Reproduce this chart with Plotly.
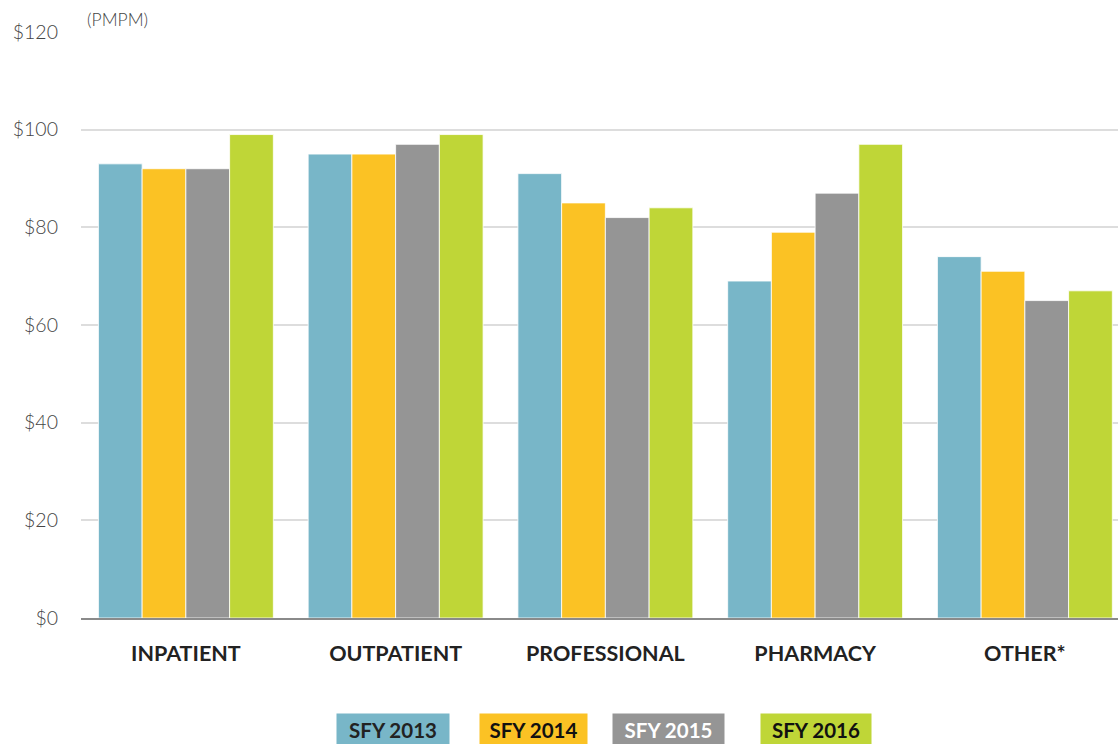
import plotly.graph_objects as go

categories = ["INPATIENT", "OUTPATIENT", "PROFESSIONAL", "PHARMACY", "OTHER*"]
series_names = ["SFY 2013", "SFY 2014", "SFY 2015", "SFY 2016"]
sfy2013 = [93, 95, 91, 69, 74]
sfy2014 = [92, 95, 85, 79, 71]
sfy2015 = [92, 97, 82, 87, 65]
sfy2016 = [99, 99, 84, 97, 67]
series_values = [sfy2013, sfy2014, sfy2015, sfy2016]
colors = ["#78b6c8", "#fbc224", "#959595", "#bfd637"]
legend_text_colors = ["#222222", "#111111", "#ffffff", "#111111"]
y_ticks = [0, 20, 40, 60, 80, 100, 120]
y_tick_labels = ["$0", "$20", "$40", "$60", "$80", "$100", "$120"]

fig = go.Figure()
for name, vals, col in zip(series_names, series_values, colors):
    fig.add_trace(go.Bar(
        x=categories, y=vals, name=name,
        marker=dict(color=col, line=dict(color="white", width=0.8)),
        showlegend=False,
    ))

W, H = 1118, 744
L, R, T = 81, 0, 32
B = H - 618
pw = W - L - R
ph = H - T - B

fig.update_layout(
    width=W, height=H,
    margin=dict(l=L, r=R, t=T, b=B, pad=0),
    barmode="group", bargap=0.166, bargroupgap=0,
    plot_bgcolor="white", paper_bgcolor="white",
    font=dict(family="Lato, Open Sans, sans-serif", color="#444"),
)
fig.update_xaxes(
    range=[-0.5, 4.444], showgrid=False,
    showline=True, linecolor="#8a8a8a", linewidth=2,
    ticks="", ticklabelstandoff=15,
    tickfont=dict(size=21.5, color="#222", family="Lato, sans-serif", weight=700),
)
fig.update_yaxes(
    range=[0, 120], tickvals=y_ticks, ticktext=y_tick_labels,
    showgrid=True, gridcolor="#dddddd", gridwidth=2,
    zeroline=False, showline=False, ticks="",
    ticklabelstandoff=22,
    tickfont=dict(size=19.5, color="#444", family="Lato, sans-serif", weight=300),
)

fig.add_annotation(
    text="(PMPM)", xref="paper", yref="paper",
    x=(85 - L) / pw, y=(618 - 19) / ph, xanchor="left", yanchor="middle",
    showarrow=False, font=dict(size=17.5, color="#444", family="Lato, sans-serif", weight=300),
)

# legend boxes (centres in page pixels)
box_centers = [393, 533.5, 668.5, 816]
box_widths = [114, 109, 113, 112]
for name, col, tc, cx, bw in zip(series_names, colors, legend_text_colors, box_centers, box_widths):
    fig.add_annotation(
        text=f"<b>{name}</b>", xref="paper", yref="paper",
        x=(cx - L) / pw, y=(618 - 730) / ph, xanchor="center", yanchor="middle",
        showarrow=False, bgcolor=col, width=bw - 2, height=32, borderpad=0,
        font=dict(size=20.5, color=tc, family="Lato, sans-serif"),
    )

fig.write_html(
    "out.html",
    config={"displayModeBar": False},
    post_script=(
        "document.documentElement.style.overflow='hidden';"
        "document.body.style.overflow='hidden';"
        "document.body.style.margin='0';"
    ),
)
